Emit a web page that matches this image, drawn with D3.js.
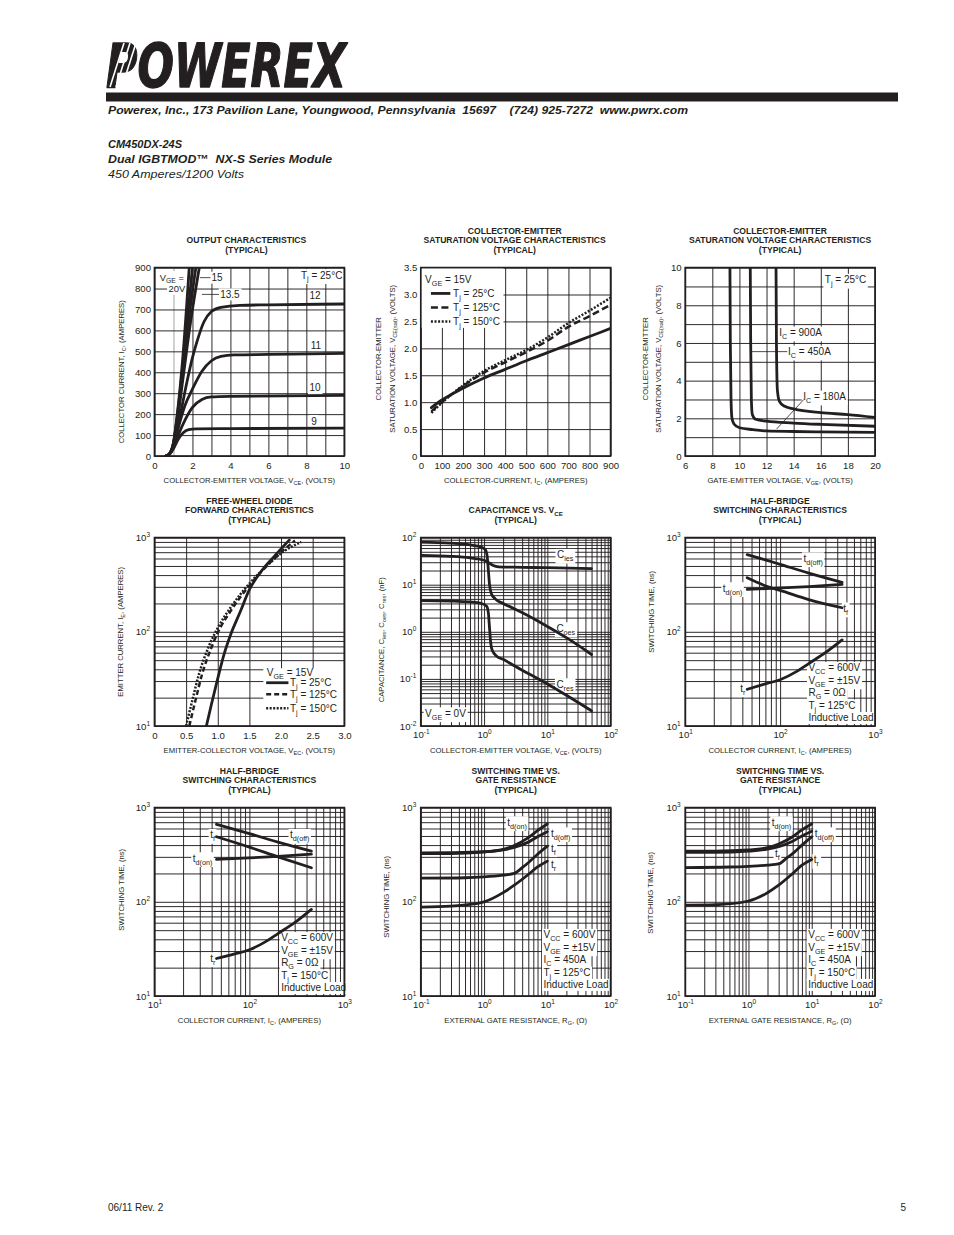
<!DOCTYPE html>
<html><head><meta charset="utf-8">
<script src="https://cdn.jsdelivr.net/npm/d3@7"></script>
<style>
body{margin:0;background:#fff}
svg{display:block}
svg text{font-family:"Liberation Sans",Arial,Helvetica,sans-serif;white-space:pre}
</style>
</head><body><script>
// ---------------- DATA ----------------
// Output characteristics (VCE volts, IC amperes), Tj = 25C
const outVGE20  = [[0.6,0],[0.8,12],[1.0,65],[1.2,200],[1.5,480],[1.83,900]];
const outVGE17  = [[0.6,0],[0.8,12],[1.0,62],[1.2,190],[1.5,440],[2.0,900]];
const outVGE15  = [[0.6,0],[0.8,12],[1.0,60],[1.2,180],[1.5,410],[1.8,650],[2.18,900]];
const outVGE135 = [[0.6,0],[0.8,12],[1.0,55],[1.2,165],[1.5,370],[1.9,640],[2.36,900]];
const outVGE12  = [[0.6,0],[0.8,10],[1.0,50],[1.3,170],[1.7,350],[2.0,470],[2.23,544],[2.6,640],[3.0,690],[3.5,710],[4.5,720],[6,722],[10,726]];
const outVGE11  = [[0.6,0],[0.8,10],[1.0,45],[1.3,150],[1.6,240],[2.0,320],[2.5,405],[3.0,455],[3.5,476],[4.2,483],[6,485],[10,490]];
const outVGE10  = [[0.6,0],[0.8,10],[1.0,40],[1.3,110],[1.6,170],[2.0,232],[2.5,270],[3.0,282],[4,285],[10,290]];
const outVGE9   = [[0.6,0],[0.8,10],[1.0,35],[1.25,80],[1.5,110],[1.8,126],[2.2,130],[4,131],[10,133]];
// Saturation voltage vs IC (A, V)
const sat25  = [[50,0.9],[100,1.04],[200,1.26],[300,1.45],[400,1.61],[500,1.77],[600,1.92],[700,2.07],[800,2.22],[900,2.37]];
const sat125 = [[50,0.83],[100,1.0],[200,1.3],[300,1.55],[400,1.74],[500,1.93],[600,2.14],[700,2.40],[800,2.60],[900,2.81]];
const sat150 = [[50,0.8],[100,0.99],[200,1.31],[300,1.58],[400,1.78],[500,1.97],[600,2.2],[700,2.47],[800,2.70],[900,2.94]];
// Saturation voltage vs VGE (V, V)
const vge180 = [[9.3,10],[9.33,6],[9.38,3],[9.45,2],[9.6,1.7],[10,1.5],[11,1.4],[12,1.33],[14,1.3],[16,1.28],[20,1.25]];
const vge450 = [[10.8,10],[10.83,6],[10.88,3],[10.95,2.2],[11.2,1.95],[12,1.85],[14,1.75],[16,1.68],[20,1.58]];
const vge900 = [[12.7,10],[12.73,6],[12.8,3.5],[12.95,2.9],[13.3,2.65],[14,2.5],[16,2.3],[18,2.2],[20,2.05]];
// Free-wheel diode (VEC volts, IE amperes)
const fwd25  = [[0.82,10],[0.9,17],[1.0,32],[1.1,58],[1.2,92],[1.35,160],[1.5,280],[1.7,450],[1.9,640],[2.0,760],[2.13,940]];
const fwd125 = [[0.55,10],[0.65,19],[0.75,35],[0.9,68],[1.0,98],[1.2,165],[1.5,310],[1.8,520],[2.0,700],[2.22,930]];
const fwd150 = [[0.5,10],[0.6,19],[0.7,35],[0.85,68],[1.0,110],[1.2,180],[1.5,325],[1.8,520],[2.0,680],[2.32,900]];
// Capacitance (VCE volts, nF)
const capCies = [[0.1,42],[0.3,40],[0.6,37],[1.0,33],[1.2,29],[1.4,25.5],[1.7,24],[3,23.5],[10,23],[50,22]];
const capCoes = [[0.1,80],[0.3,76],[0.6,70],[0.9,63],[1.05,55],[1.12,40],[1.17,20],[1.22,10],[1.3,6.5],[1.5,5.0],[2,4.0],[3,3.1],[5,2.2],[10,1.3],[20,0.75],[50,0.33]];
const capCres = [[0.1,4.6],[0.3,4.5],[0.6,4.3],[0.9,4.0],[1.1,3.5],[1.17,2.5],[1.22,1.2],[1.27,0.6],[1.35,0.4],[1.6,0.3],[2,0.26],[3,0.19],[5,0.13],[10,0.078],[20,0.045],[50,0.021]];
// Half-bridge switching, Tj = 125C (IC A, ns)
const hb125Tdoff = [[45,660],[70,580],[100,520],[200,420],[450,335]];
const hb125Tdon  = [[45,282],[100,292],[200,302],[450,318]];
const hb125Tf    = [[45,375],[75,300],[100,275],[200,220],[450,180]];
const hb125Tr    = [[45,24.5],[70,28],[100,31],[150,38],[200,46],[300,60],[450,82]];
// Half-bridge switching, Tj = 150C
const hb150Tdoff = [[45,665],[100,530],[200,430],[450,345]];
const hb150Tf    = [[45,490],[100,380],[200,300],[450,230]];
const hb150Tdon  = [[45,282],[100,292],[200,303],[450,320]];
const hb150Tr    = [[45,25],[70,28],[100,31],[150,38],[200,46],[300,60],[450,83]];
// Switching time vs RG, Tj = 125C (ohm, ns)
const rg125Tdon  = [[0.1,330],[0.3,332],[1,340],[2,360],[3,395],[5,480],[7,570],[10,670]];
const rg125Tdoff = [[0.1,325],[0.3,325],[1,338],[2,356],[3,378],[5,430],[7,490],[10,555]];
const rg125Tf    = [[0.1,178],[0.5,180],[1,184],[2,192],[3,200],[4,230],[5,260],[7,320],[10,390]];
const rg125Tr    = [[0.1,88],[0.3,90],[1,100],[2,125],[3,150],[5,195],[7,235],[10,270]];
// Switching time vs RG, Tj = 150C
const rg150Tdon  = [[0.1,345],[0.3,345],[1,355],[2,375],[3,410],[5,490],[7,580],[10,670]];
const rg150Tdoff = [[0.1,335],[0.3,335],[1,345],[2,362],[3,385],[5,440],[7,500],[10,560]];
const rg150Tf    = [[0.1,231],[0.5,234],[1,238],[2,245],[3,252],[4,290],[5,325],[7,400],[10,490]];
const rg150Tr    = [[0.1,92],[0.3,93],[1,102],[2,125],[3,150],[5,200],[7,245],[10,282]];

// tick label values
const out_xTicks = [0,2,4,6,8,10];
const out_yTicks = [0,100,200,300,400,500,600,700,800,900];
const sat_xTicks = [0,100,200,300,400,500,600,700,800,900];
const sat_yTicks = [0,0.5,1.0,1.5,2.0,2.5,3.0,3.5];
const vge_xTicks = [6,8,10,12,14,16,18,20];
const vge_yTicks = [0,2,4,6,8,10];
const fwd_xTicks = [0,0.5,1.0,1.5,2.0,2.5,3.0];
const dec10_1000 = [10,100,1000];
const dec01_100  = [0.1,1,10,100];
const dec001_100 = [0.01,0.1,1,10,100];

// ---------------- LAYOUT ----------------
const INK = '#231f20';
const colX = [154.5, 420.8, 685.2];
const rowY = [267.6, 537.6, 807.6];
const PW = 189.8, PH = 188.4;
const TICK = 9.6, ANN = 10, TITLE = 8.6, AXT = 7.7, CW = 2.8;

const svg = d3.select('body').append('svg').attr('width', 954).attr('height', 1235);
svg.append('rect').attr('width', 954).attr('height', 1235).attr('fill', '#fff');
svg.append('defs').append('clipPath').attr('id', 'clip')
  .append('rect').attr('x', 0).attr('y', 0).attr('width', PW).attr('height', PH);

function rich(t, str, fs) {
  t.text(null);
  const re = /([_^])\{([^}]*)\}|([^_^]+)/g;
  let m, cur = 0;
  while ((m = re.exec(str)) !== null) {
    let txt, off, size;
    if (m[1] === '_') { txt = m[2]; off = 0.28 * fs; size = 0.72 * fs; }
    else if (m[1] === '^') { txt = m[2]; off = -0.42 * fs; size = 0.68 * fs; }
    else { txt = m[3]; off = 0; size = fs; }
    t.append('tspan').attr('dy', (off - cur).toFixed(2)).attr('font-size', size).text(txt);
    cur = off;
  }
  return t;
}
function addText(g, x, y, str, fs, o = {}) {
  const t = g.append('text').attr('x', x).attr('y', y).attr('font-size', fs)
    .attr('text-anchor', o.anchor || 'start').attr('fill', INK);
  if (o.weight) t.attr('font-weight', o.weight);
  if (o.style) t.attr('font-style', o.style);
  rich(t, str, fs);
  return t;
}
function whiteBg(layer, t, pad) {
  const b = t.node().getBBox();
  layer.append('rect').attr('x', b.x - pad).attr('y', b.y - 0.5)
    .attr('width', b.width + 2 * pad).attr('height', b.height + 1).attr('fill', '#fff');
}
function logGrid([a, b]) {
  const out = [];
  for (let e = Math.round(Math.log10(a)); e < Math.round(Math.log10(b)); e++)
    for (let k = 1; k < 10; k++) out.push(k * Math.pow(10, e));
  out.push(b);
  return out;
}
const pow10 = d => '10^{' + Math.round(Math.log10(d)) + '}';
const fmt1 = d => d === 0 ? '0' : d.toFixed(1);

const condHB125 = ['V_{CC} = 600V', 'V_{GE} = ±15V', 'R_{G} = 0Ω', 'T_{j} = 125°C', 'Inductive Load'];
const condHB150 = ['V_{CC} = 600V', 'V_{GE} = ±15V', 'R_{G} = 0Ω', 'T_{j} = 150°C', 'Inductive Load'];
const condRG125 = ['V_{CC} = 600V', 'V_{GE} = ±15V', 'I_{C} = 450A', 'T_{j} = 125°C', 'Inductive Load'];
const condRG150 = ['V_{CC} = 600V', 'V_{GE} = ±15V', 'I_{C} = 450A', 'T_{j} = 150°C', 'Inductive Load'];

const panels = [
  { col: 0, row: 0, xDomain: [0, 10], yDomain: [0, 900],
    xGrid: d3.range(0, 10.01, 1), yGrid: d3.range(0, 901, 100), grayX: [1],
    xTicks: out_xTicks, yTicks: out_yTicks,
    title: ['OUTPUT CHARACTERISTICS', '(TYPICAL)'], titleDx: -3,
    xTitle: 'COLLECTOR-EMITTER VOLTAGE, V_{CE}, (VOLTS)',
    yTitle: ['COLLECTOR CURRENT, I_{C}, (AMPERES)'], yTitleX: [-33.5], yTitleDy: 10,
    series: [{ d: outVGE20 }, { d: outVGE17 }, { d: outVGE15 }, { d: outVGE135 }, { d: outVGE12 }, { d: outVGE11 }, { d: outVGE10 }, { d: outVGE9 }],
    labels: [
      { t: 'V_{GE} =', x: 0.28, y: 854, bg: 1, fs: 9.4 }, { t: '20V', x: 1.62, y: 797, bg: 1, anchor: 'end', fs: 9.4 },
      { t: '15', x: 3.0, y: 852, bg: 1 }, { t: '13.5', x: 3.46, y: 772, bg: 1 },
      { t: 'T_{j} = 25°C', x: 9.9, y: 864, anchor: 'end', bg: 1 },
      { t: '12', x: 8.46, y: 765, anchor: 'middle', bg: 1 }, { t: '11', x: 8.5, y: 530, anchor: 'middle', bg: 1 },
      { t: '10', x: 8.46, y: 325, anchor: 'middle', bg: 1 }, { t: '9', x: 8.4, y: 167, anchor: 'middle', bg: 1 }],
    leaders: [[[2.4, 852], [2.95, 852]], [[2.5, 772], [3.4, 772]]] },
  { col: 1, row: 0, xDomain: [0, 900], yDomain: [0, 3.5],
    xGrid: d3.range(0, 901, 100), yGrid: sat_yTicks, xTicks: sat_xTicks, yTicks: sat_yTicks, yFmt: fmt1,
    title: ['COLLECTOR-EMITTER', 'SATURATION VOLTAGE CHARACTERISTICS', '(TYPICAL)'], titleDx: -1,
    xTitle: 'COLLECTOR-CURRENT, I_{C}, (AMPERES)',
    yTitle: ['COLLECTOR-EMITTER', 'SATURATION VOLTAGE, V_{CE(sat)}, (VOLTS)'], yTitleX: [-42.7, -28.3], yTitleDy: -3,
    series: [{ d: sat25 }, { d: sat125, dash: '7,3.5' }, { d: sat150, dash: '2,1.6' }],
    legend: { box: [[0, 3.5], [392, 2.38]], head: { t: 'V_{GE} = 15V', x: 20.5, y: 3.28 }, lineX: [48, 140], textX: 153,
      items: [{ t: 'T_{j} = 25°C', y: 3.02 }, { t: 'T_{j} = 125°C', y: 2.76, dash: '7,3.5' }, { t: 'T_{j} = 150°C', y: 2.50, dash: '2,1.6' }] } },
  { col: 2, row: 0, xDomain: [6, 20], yDomain: [0, 10],
    xGrid: d3.range(6, 20.01, 2), yGrid: d3.range(0, 10.01, 1), xTicks: vge_xTicks, yTicks: vge_yTicks,
    title: ['COLLECTOR-EMITTER', 'SATURATION VOLTAGE CHARACTERISTICS', '(TYPICAL)'], titleDx: 0,
    xTitle: 'GATE-EMITTER VOLTAGE, V_{GE}, (VOLTS)',
    yTitle: ['COLLECTOR-EMITTER', 'SATURATION VOLTAGE, V_{CE(sat)}, (VOLTS)'], yTitleX: [-40, -27], yTitleDy: -3,
    series: [{ d: vge180 }, { d: vge450 }, { d: vge900 }],
    labels: [
      { t: 'T_{j} = 25°C', x: 16.3, y: 9.35, bg: 1 }, { t: 'I_{C} = 900A', x: 12.93, y: 6.55, bg: 1 },
      { t: 'I_{C} = 450A', x: 13.59, y: 5.54, bg: 1 }, { t: 'I_{C} = 180A', x: 14.7, y: 3.15, bg: 1 }],
    leaders: [[[10.9, 5.54], [13.53, 5.54]], [[12.74, 1.43], [14.75, 3.0]]] },
  { col: 0, row: 1, xDomain: [0, 3], yDomain: [10, 1000], yLog: true,
    xGrid: d3.range(0, 3.01, 0.5), xTicks: fwd_xTicks, xFmt: fmt1, yTicks: dec10_1000,
    title: ['FREE-WHEEL DIODE', 'FORWARD CHARACTERISTICS', '(TYPICAL)'], titleDx: 0,
    xTitle: 'EMITTER-COLLECTOR VOLTAGE, V_{EC}, (VOLTS)',
    yTitle: ['EMITTER CURRENT, I_{E}, (AMPERES)'], yTitleX: [-34.5], yTitleDy: 0,
    series: [{ d: fwd25 }, { d: fwd125, dash: '5,3' }, { d: fwd150, dash: '2,1.5' }],
    legend: { box: [[1.72, 41], [3.0, 10]], head: { t: 'V_{GE} = 15V', x: 1.775, y: 36.8 }, lineX: [1.765, 2.117], textX: 2.14,
      items: [{ t: 'T_{j} = 25°C', y: 28.8 }, { t: 'T_{j} = 125°C', y: 21.7, dash: '5,3' }, { t: 'T_{j} = 150°C', y: 15.4, dash: '2,1.5' }] } },
  { col: 1, row: 1, xDomain: [0.1, 100], yDomain: [0.01, 100], xLog: true, yLog: true,
    xTicks: dec01_100, yTicks: dec001_100,
    title: ['CAPACITANCE VS. V_{CE}', '(TYPICAL)'], titleDx: 0,
    xTitle: 'COLLECTOR-EMITTER VOLTAGE, V_{CE}, (VOLTS)',
    yTitle: ['CAPACITANCE, C_{ies}, C_{oes}, C_{res}, (nF)'], yTitleX: [-40], yTitleDy: 8,
    series: [{ d: capCies }, { d: capCoes }, { d: capCres }],
    labels: [
      { t: 'C_{ies}', x: 14.2, y: 42.9, bg: 1 }, { t: 'C_{oes}', x: 13.9, y: 1.19, bg: 1 },
      { t: 'C_{res}', x: 13.9, y: 0.077, bg: 1 }, { t: 'V_{GE} = 0V', x: 0.117, y: 0.0186, bg: 1 }] },
  { col: 2, row: 1, xDomain: [10, 1000], yDomain: [10, 1000], xLog: true, yLog: true,
    xTicks: dec10_1000, yTicks: dec10_1000,
    title: ['HALF-BRIDGE', 'SWITCHING CHARACTERISTICS', '(TYPICAL)'], titleDx: 0,
    xTitle: 'COLLECTOR CURRENT, I_{C}, (AMPERES)',
    yTitle: ['SWITCHING TIME, (ns)'], yTitleX: [-34], yTitleDy: -20,
    series: [{ d: hb125Tdoff }, { d: hb125Tdon }, { d: hb125Tf }, { d: hb125Tr }],
    labels: [
      { t: 't_{d(off)}', x: 176, y: 603, bg: 1 }, { t: 't_{d(on)}', x: 24.9, y: 290, bg: 1 },
      { t: 't_{f}', x: 464, y: 177, bg: 1 }, { t: 't_{r}', x: 38, y: 25.1, bg: 1 }],
    cond: { x: 199, y: 41.3, lines: condHB125 } },
  { col: 0, row: 2, xDomain: [10, 1000], yDomain: [10, 1000], xLog: true, yLog: true,
    xTicks: dec10_1000, yTicks: dec10_1000,
    title: ['HALF-BRIDGE', 'SWITCHING CHARACTERISTICS', '(TYPICAL)'], titleDx: 0,
    xTitle: 'COLLECTOR CURRENT, I_{C}, (AMPERES)',
    yTitle: ['SWITCHING TIME, (ns)'], yTitleX: [-33], yTitleDy: -12,
    series: [{ d: hb150Tdoff }, { d: hb150Tf }, { d: hb150Tdon }, { d: hb150Tr }],
    labels: [
      { t: 't_{f}', x: 38.6, y: 512, bg: 1 }, { t: 't_{d(off)}', x: 268, y: 512, bg: 1 },
      { t: 't_{d(on)}', x: 25.3, y: 290, bg: 1 }, { t: 't_{r}', x: 38.6, y: 25.1, bg: 1 }],
    cond: { x: 216, y: 41.3, lines: condHB150 } },
  { col: 1, row: 2, xDomain: [0.1, 100], yDomain: [10, 1000], xLog: true, yLog: true,
    xTicks: dec01_100, yTicks: dec10_1000,
    title: ['SWITCHING TIME VS.', 'GATE RESISTANCE', '(TYPICAL)'], titleDx: 0,
    xTitle: 'EXTERNAL GATE RESISTANCE, R_{G}, (Ω)',
    yTitle: ['SWITCHING TIME, (ns)'], yTitleX: [-35], yTitleDy: -5,
    series: [{ d: rg125Tdon }, { d: rg125Tdoff }, { d: rg125Tf }, { d: rg125Tr }],
    labels: [
      { t: 't_{d(on)}', x: 2.33, y: 698, bg: 1 }, { t: 't_{d(off)}', x: 11.4, y: 533, bg: 1 },
      { t: 't_{f}', x: 11.4, y: 370, bg: 1 }, { t: 't_{r}', x: 11.4, y: 250, bg: 1 }],
    cond: { x: 8.7, y: 44.5, lines: condRG125 } },
  { col: 2, row: 2, xDomain: [0.1, 100], yDomain: [10, 1000], xLog: true, yLog: true,
    xTicks: dec01_100, yTicks: dec10_1000,
    title: ['SWITCHING TIME VS.', 'GATE RESISTANCE', '(TYPICAL)'], titleDx: 0,
    xTitle: 'EXTERNAL GATE RESISTANCE, R_{G}, (Ω)',
    yTitle: ['SWITCHING TIME, (ns)'], yTitleX: [-35], yTitleDy: -9,
    series: [{ d: rg150Tdon }, { d: rg150Tdoff }, { d: rg150Tf }, { d: rg150Tr }],
    labels: [
      { t: 't_{d(on)}', x: 2.33, y: 698, bg: 1 }, { t: 't_{d(off)}', x: 11.2, y: 533, bg: 1 },
      { t: 't_{f}', x: 2.63, y: 327, bg: 1 }, { t: 't_{r}', x: 10.8, y: 278, bg: 1 }],
    cond: { x: 8.8, y: 44.5, lines: condRG150 } }
];

function fixTickText(a, isLog) {
  a.select('.domain').remove();
  a.attr('font-family', null).attr('font-size', null);
  a.selectAll('text').each(function (d) {
    const s = d3.select(this);
    const dyEm = parseFloat(s.attr('dy')) || 0;
    const y0 = parseFloat(s.attr('y')) || 0;
    s.attr('y', y0 + dyEm * TICK).attr('dy', null).attr('font-size', TICK).attr('fill', INK);
    if (isLog) rich(s, pow10(d), TICK);
  });
}

function drawPanel(p) {
  const g = svg.append('g').attr('transform', `translate(${colX[p.col]},${rowY[p.row]})`);
  const x = (p.xLog ? d3.scaleLog() : d3.scaleLinear()).domain(p.xDomain).range([0, PW]);
  const y = (p.yLog ? d3.scaleLog() : d3.scaleLinear()).domain(p.yDomain).range([PH, 0]);
  const L = { grid: g.append('g'), bg: g.append('g'), curves: g.append('g').attr('clip-path', 'url(#clip)'),
              text: g.append('g'), frame: g.append('g') };
  // grid via axes
  const xg = p.xLog ? logGrid(p.xDomain) : p.xGrid;
  const yg = p.yLog ? logGrid(p.yDomain) : p.yGrid;
  const gx = L.grid.append('g').attr('transform', `translate(0,${PH})`)
    .call(d3.axisBottom(x).tickValues(xg).tickSize(-PH).tickFormat(''));
  const gy = L.grid.append('g').call(d3.axisLeft(y).tickValues(yg).tickSize(-PW).tickFormat(''));
  [gx, gy].forEach(a => { a.select('.domain').remove(); a.selectAll('text').remove(); a.selectAll('line').attr('stroke', INK).attr('stroke-width', 0.95); });
  if (p.grayX) gx.selectAll('.tick').filter(d => p.grayX.includes(d)).select('line').attr('stroke', '#9d9d9d');

  // tick labels via axes
  const lx = g.append('g').attr('transform', `translate(0,${PH})`)
    .call(d3.axisBottom(x).tickValues(p.xTicks).tickSize(0).tickPadding(p.xLog ? 5 : 6.5)
      .tickFormat(p.xLog ? pow10 : (p.xFmt || (d => d))));
  const ly = g.append('g')
    .call(d3.axisLeft(y).tickValues(p.yTicks).tickSize(0).tickPadding(p.yLog ? 4.5 : 3.5)
      .tickFormat(p.yLog ? pow10 : (p.yFmt || (d => d))));
  fixTickText(lx, p.xLog);
  fixTickText(ly, p.yLog);

  // curves
  const line = d3.line().x(d => x(d[0])).y(d => y(d[1])).curve(d3.curveMonotoneX);
  p.series.forEach(s => {
    L.curves.append('path').datum(s.d).attr('d', line).attr('fill', 'none').attr('stroke', INK)
      .attr('stroke-width', s.dash ? 2.5 : CW).attr('stroke-dasharray', s.dash || null)
      .attr('stroke-linecap', s.dash ? 'butt' : 'round').attr('stroke-linejoin', 'round');
  });

  // labels
  (p.labels || []).forEach(l => {
    const fs = l.fs || ANN;
    const t = addText(L.text, x(l.x), y(l.y) + 0.35 * fs, l.t, fs, { anchor: l.anchor });
    if (l.bg) whiteBg(L.bg, t, 1.5);
  });
  (p.leaders || []).forEach(ld => {
    L.text.append('line').attr('x1', x(ld[0][0])).attr('y1', y(ld[0][1])).attr('x2', x(ld[1][0])).attr('y2', y(ld[1][1]))
      .attr('stroke', INK).attr('stroke-width', 0.8);
  });
  if (p.legend) {
    const lg = p.legend;
    const bx0 = x(lg.box[0][0]), by0 = y(lg.box[0][1]), bx1 = x(lg.box[1][0]), by1 = y(lg.box[1][1]);
    L.bg.append('rect').attr('x', bx0).attr('y', by0).attr('width', bx1 - bx0).attr('height', by1 - by0).attr('fill', '#fff');
    addText(L.text, x(lg.head.x), y(lg.head.y) + 0.35 * ANN, lg.head.t, ANN);
    lg.items.forEach(it => {
      L.text.append('line').attr('x1', x(lg.lineX[0])).attr('x2', x(lg.lineX[1])).attr('y1', y(it.y)).attr('y2', y(it.y))
        .attr('stroke', INK).attr('stroke-width', it.dash ? 2.5 : CW).attr('stroke-dasharray', it.dash || null);
      addText(L.text, x(lg.textX), y(it.y) + 0.35 * ANN, it.t, ANN);
    });
  }
  if (p.cond) {
    const cx = x(p.cond.x), cy = y(p.cond.y);
    p.cond.lines.forEach((s, i) => {
      const t = addText(L.text, cx, cy + i * 12.5 + 0.35 * ANN, s, ANN);
      whiteBg(L.bg, t, 1.5);
    });
  }

  // frame
  L.frame.append('rect').attr('width', PW).attr('height', PH).attr('fill', 'none').attr('stroke', INK).attr('stroke-width', 1.7);

  // titles
  const n = p.title.length;
  p.title.forEach((s, i) => addText(g, PW / 2 + p.titleDx, -17.5 - (n - 1 - i) * 9.8 + 0.35 * TITLE, s, TITLE, { anchor: 'middle', weight: 'bold' }));
  addText(g, PW / 2, PH + 24 + 0.35 * AXT, p.xTitle, AXT, { anchor: 'middle' });
  p.yTitle.forEach((s, i) => {
    const gg = g.append('g').attr('transform', `translate(${p.yTitleX[i]},${PH / 2 + p.yTitleDy}) rotate(-90)`);
    addText(gg, 0, 0.35 * AXT, s, AXT, { anchor: 'middle' });
  });
}
panels.forEach(drawPanel);

// ---------------- HEADER / FOOTER ----------------
const hdr = svg.append('g');
hdr.append('text').attr('x', 106).attr('y', 86.5).attr('font-size', 60)
  .attr('font-weight', 'bold').attr('font-style', 'italic')
  .style('font-family', '"DejaVu Sans", sans-serif')
  .attr('textLength', 240).attr('lengthAdjust', 'spacingAndGlyphs')
  .attr('fill', INK).attr('stroke', INK).attr('stroke-width', 1.4).attr('stroke-linejoin', 'round').text('POWEREX');
[0, 1, 2].forEach(i => {
  hdr.append('line').attr('x1', 110 + i * 6).attr('y1', 87).attr('x2', 124 + i * 6).attr('y2', 43)
    .attr('stroke', '#fff').attr('stroke-width', 1.6);
});
hdr.append('rect').attr('x', 106).attr('y', 92.5).attr('width', 792).attr('height', 9).attr('fill', INK);
hdr.append('text').attr('x', 108).attr('y', 113.5).attr('font-size', 11.2).attr('font-weight', 'bold').attr('font-style', 'italic')
  .attr('textLength', 580).attr('lengthAdjust', 'spacingAndGlyphs').attr('fill', INK)
  .text('Powerex, Inc., 173 Pavilion Lane, Youngwood, Pennsylvania  15697    (724) 925-7272  www.pwrx.com');
hdr.append('text').attr('x', 108).attr('y', 148).attr('font-size', 11).attr('font-weight', 'bold').attr('font-style', 'italic').attr('fill', INK).text('CM450DX-24S');
hdr.append('text').attr('x', 108).attr('y', 163).attr('font-size', 11.4).attr('font-weight', 'bold').attr('font-style', 'italic')
  .attr('textLength', 224).attr('lengthAdjust', 'spacingAndGlyphs').attr('fill', INK).text('Dual IGBTMOD™  NX-S Series Module');
hdr.append('text').attr('x', 108).attr('y', 178).attr('font-size', 11.4).attr('font-style', 'italic')
  .attr('textLength', 136).attr('lengthAdjust', 'spacingAndGlyphs').attr('fill', INK).text('450 Amperes/1200 Volts');
hdr.append('text').attr('x', 108).attr('y', 1211).attr('font-size', 10).attr('fill', INK).text('06/11 Rev. 2');
hdr.append('text').attr('x', 906).attr('y', 1211).attr('font-size', 10).attr('text-anchor', 'end').attr('fill', INK).text('5');
</script></body></html>
